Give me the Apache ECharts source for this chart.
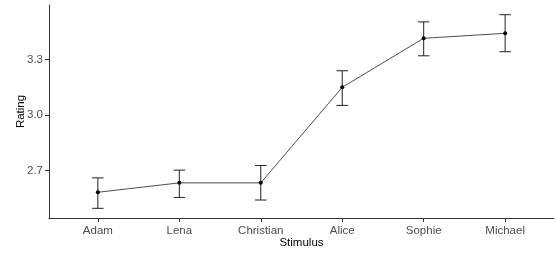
<!DOCTYPE html>
<html>
<head>
<meta charset="utf-8">
<script src="https://cdn.jsdelivr.net/npm/echarts@6/dist/echarts.min.js"></script>
<style>
  html, body { margin: 0; padding: 0; background: #fff; }
  #chart { width: 556px; height: 257px; }
</style>
</head>
<body>
<div id="chart"></div>
<script>
// values
var stimuli = ['Adam', 'Lena', 'Christian', 'Alice', 'Sophie', 'Michael'];
var meanRating = [2.581, 2.632, 2.632, 3.150, 3.416, 3.443];
var lowerRating = [2.494, 2.553, 2.539, 3.052, 3.321, 3.343];
var upperRating = [2.659, 2.701, 2.726, 3.240, 3.505, 3.544];
var yTicks = [2.7, 3.0, 3.3];

var font = 'Liberation Sans, Arial, sans-serif';
var chart = echarts.init(document.getElementById('chart'));

var points = meanRating.map(function (v, i) { return [i, v]; });
var bars = stimuli.map(function (s, i) { return [i, lowerRating[i], upperRating[i]]; });

function drawErrorBar(params, api) {
  var x = api.value(0);
  var lo = api.coord([x, api.value(1)]);
  var hi = api.coord([x, api.value(2)]);
  var half = api.size([1, 0])[0] * 0.07;
  var style = { stroke: '#222', lineWidth: 1 };
  return {
    type: 'group',
    children: [
      { type: 'line', shape: { x1: lo[0], y1: lo[1], x2: hi[0], y2: hi[1] }, style: style },
      { type: 'line', shape: { x1: hi[0] - half, y1: hi[1], x2: hi[0] + half, y2: hi[1] }, style: style },
      { type: 'line', shape: { x1: lo[0] - half, y1: lo[1], x2: lo[0] + half, y2: lo[1] }, style: style }
    ]
  };
}

var option = {
  animation: false,
  backgroundColor: '#fff',
  grid: { left: 49, top: 5, width: 505, height: 213 },
  xAxis: {
    type: 'value',
    min: -0.6,
    max: 5.6,
    name: 'Stimulus',
    nameLocation: 'middle',
    nameGap: 19,
    nameMoveOverlap: false,
    nameTextStyle: { color: '#000', fontSize: 11.5, fontFamily: font },
    splitLine: { show: false },
    axisLine: { show: true, onZero: false, lineStyle: { color: '#333', width: 1 } },
    axisTick: { show: true, length: 4, customValues: [0, 1, 2, 3, 4, 5], lineStyle: { color: '#333' } },
    axisLabel: {
      customValues: [0, 1, 2, 3, 4, 5],
      margin: 7,
      color: '#4d4d4d', fontSize: 11.5, fontFamily: font,
      formatter: function (v) { return stimuli[Math.round(v)]; }
    }
  },
  yAxis: {
    type: 'value',
    min: 2.4415,
    max: 3.5965,
    name: 'Rating',
    nameLocation: 'middle',
    nameGap: 22,
    nameMoveOverlap: false,
    nameTextStyle: { color: '#000', fontSize: 11.5, fontFamily: font },
    splitLine: { show: false },
    axisLine: { show: true, onZero: false, lineStyle: { color: '#333', width: 1 } },
    axisTick: { show: true, length: 4, customValues: yTicks, lineStyle: { color: '#333' } },
    axisLabel: {
      customValues: yTicks,
      margin: 6,
      color: '#4d4d4d', fontSize: 11.5, fontFamily: font,
      formatter: function (v) { return v.toFixed(1); }
    }
  },
  series: [
    {
      type: 'custom',
      data: bars,
      renderItem: drawErrorBar,
      z: 2
    },
    {
      type: 'line',
      data: points,
      symbol: 'circle',
      symbolSize: 4,
      lineStyle: { color: '#000', width: 0.7 },
      itemStyle: { color: '#000' },
      z: 3
    }
  ]
};

chart.setOption(option);
</script>
</body>
</html>
